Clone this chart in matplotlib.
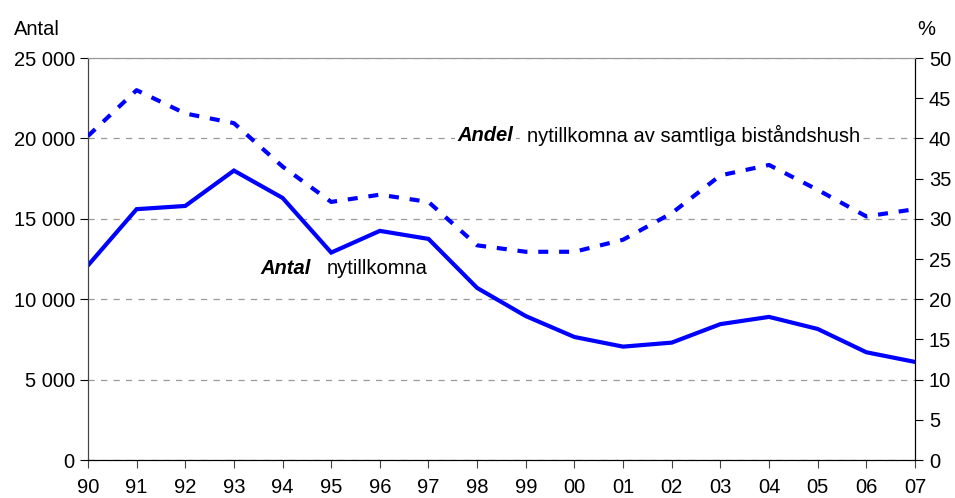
import matplotlib
matplotlib.use("Agg")
import matplotlib.pyplot as plt
from matplotlib.ticker import FuncFormatter

plt.rcParams["font.family"] = ["Liberation Sans", "DejaVu Sans"]

# ── data ──────────────────────────────────────────────────────────────────────
years = ["90", "91", "92", "93", "94", "95", "96", "97", "98",
         "99", "00", "01", "02", "03", "04", "05", "06", "07"]
antal = [12100, 15600, 15800, 18000, 16300, 12900, 14250, 13750, 10700,
         8950, 7650, 7050, 7300, 8450, 8900, 8150, 6700, 6100]
andel = [40.3, 46.0, 43.1, 41.9, 36.5, 32.1, 33.0, 32.1, 26.7,
         25.9, 25.9, 27.4, 30.7, 35.4, 36.7, 33.6, 30.3, 31.2]

BLUE = "#0000ff"
FS = 14.5

fig = plt.figure(figsize=(9.55, 4.98), dpi=100)
ax = fig.add_axes([0.0921, 0.0763, 0.866, 0.8072])
ax2 = ax.twinx()

x = list(range(len(years)))
ax.plot(x, antal, color=BLUE, lw=3, solid_joinstyle="miter", zorder=3)
ax2.plot(x, andel, color=BLUE, lw=3, linestyle=(0, (2.4, 2.6)), zorder=3)

ax.set_xlim(0, len(years) - 1)
ax.set_ylim(0, 25000)
ax2.set_ylim(0, 50)

ax.set_yticks(range(0, 25001, 5000))
ax.yaxis.set_major_formatter(FuncFormatter(lambda v, p: f"{int(v):,}".replace(",", " ")))
ax2.set_yticks(range(0, 51, 5))
ax.set_xticks(x)
ax.set_xticklabels(years)

ax.grid(axis="y", color="#999999", linestyle=(0, (5, 5)), lw=0.9)
ax.set_axisbelow(True)

for a in (ax, ax2):
    a.spines["top"].set_color("#999999")
    a.spines["left"].set_color("#444444")
    a.spines["right"].set_color("black")
    a.spines["bottom"].set_color("black")
ax.tick_params(axis="both", labelsize=FS, length=6, direction="out", colors="black")
ax.tick_params(axis="x", pad=7, color="#444444")
ax2.tick_params(axis="y", labelsize=FS, length=6, direction="out", pad=4)

fig.text(0.0147, 0.94, "Antal", fontsize=FS, va="center", ha="left")
fig.text(0.979, 0.94, "%", fontsize=FS, va="center", ha="right")

# in-chart labels
box = dict(facecolor="white", edgecolor="none", pad=2)
ax2.text(7.6, 40.4, "Andel", fontsize=FS, fontweight="bold", fontstyle="italic",
         va="center", ha="left", bbox=box, zorder=4)
ax2.text(9.03, 40.4, "nytillkomna av samtliga biståndshush", fontsize=FS,
         va="center", ha="left", bbox=box, zorder=4)
ax.text(3.55, 11900, "Antal", fontsize=FS, fontweight="bold", fontstyle="italic",
        va="center", ha="left")
ax.text(4.9, 11900, "nytillkomna", fontsize=FS, va="center", ha="left")

fig.savefig("out.png", dpi=100)
